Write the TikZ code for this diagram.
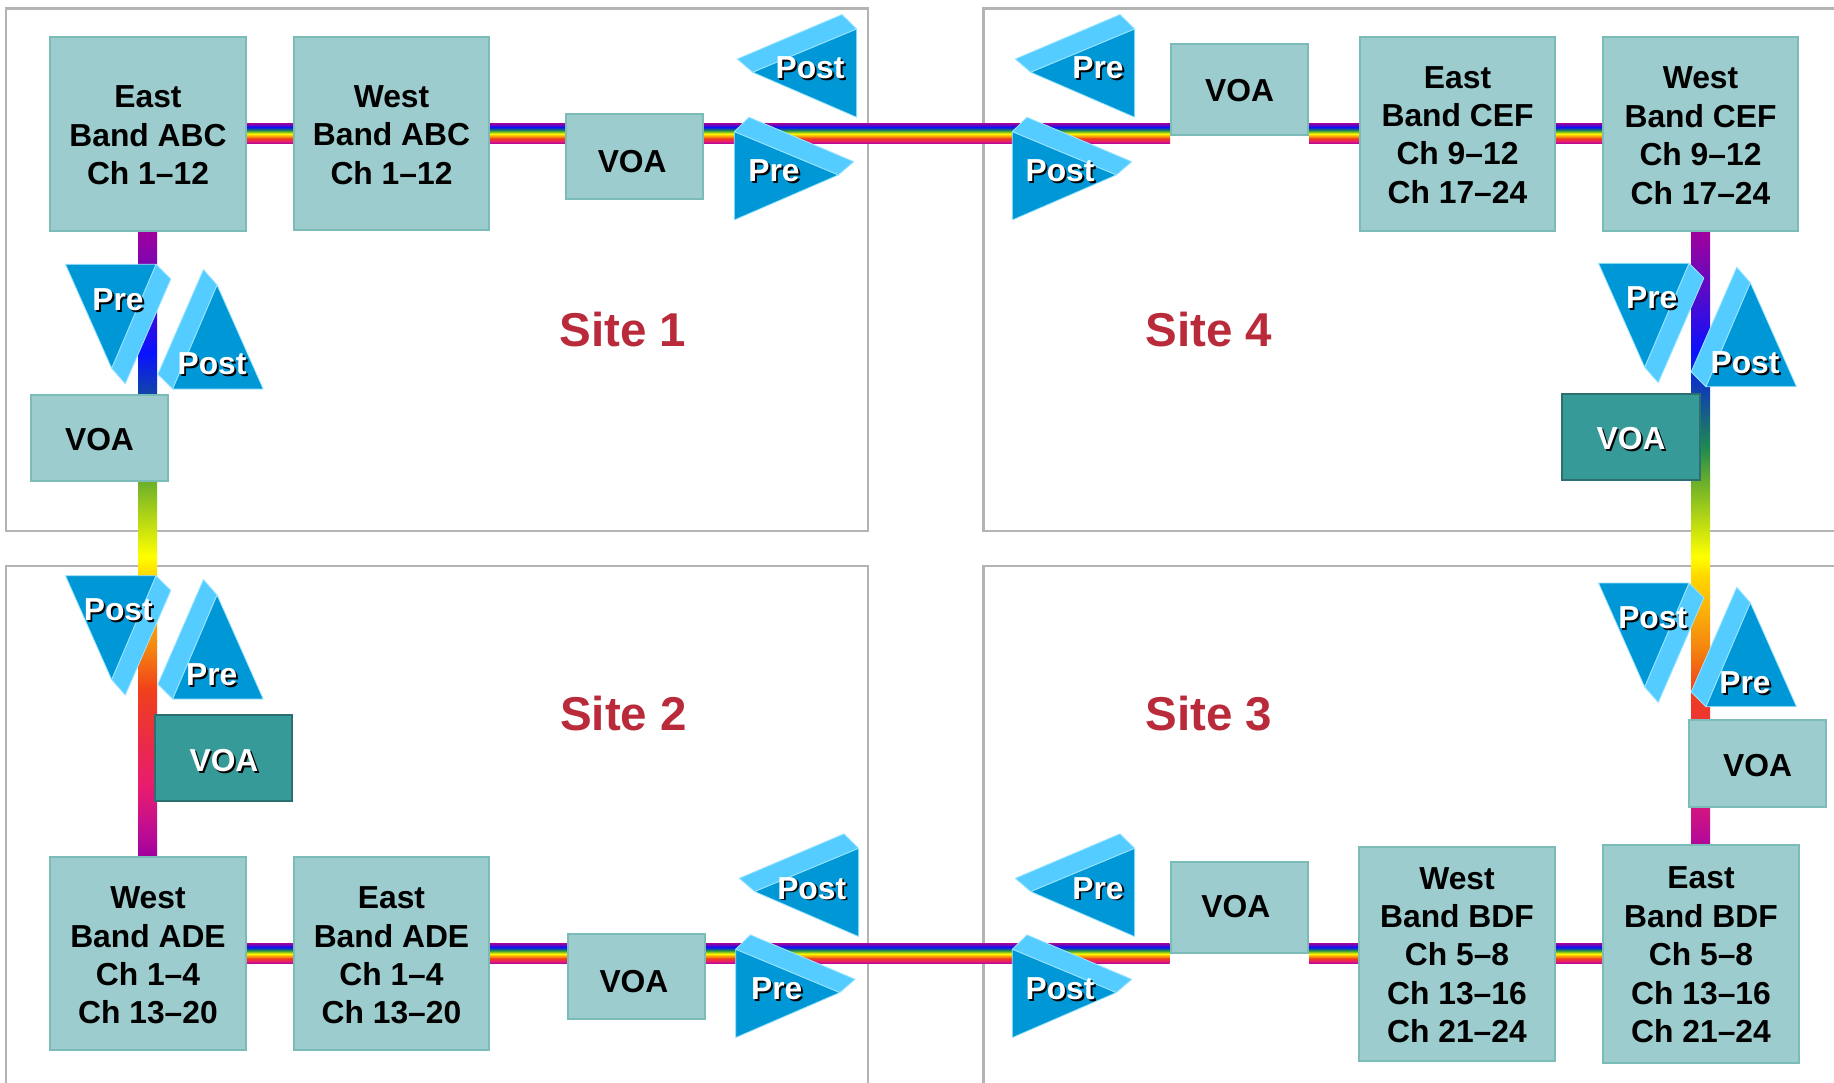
\documentclass[tikz,border=0pt]{standalone}
\usepackage{fontspec}
\setmainfont{Liberation Sans}
\usetikzlibrary{calc}
\pgfdeclarelayer{framelayer}
\pgfdeclarelayer{barlayer}
\pgfsetlayers{framelayer,barlayer,main}
\definecolor{framegray}{HTML}{B4B4B4}
\definecolor{boxfill}{HTML}{9CCCCD}
\definecolor{boxedge}{HTML}{7BBBB8}
\definecolor{darkfill}{HTML}{369A99}
\definecolor{darkedge}{HTML}{2B6F70}
\definecolor{ampmain}{HTML}{0097D6}
\definecolor{ampband}{HTML}{55CCFF}
\definecolor{ampedge}{HTML}{9FE6FF}
\definecolor{sitered}{HTML}{B92B3B}
\definecolor{ra}{HTML}{A0009E}
\definecolor{rb}{HTML}{7C06B0}
\definecolor{rc}{HTML}{0A12FF}
\definecolor{rd}{HTML}{1040B0}
\definecolor{re}{HTML}{1E8A50}
\definecolor{rf}{HTML}{6CAF2A}
\definecolor{rg}{HTML}{FFFF00}
\definecolor{rh}{HTML}{FFD800}
\definecolor{ri}{HTML}{F5860F}
\definecolor{rj}{HTML}{F0401A}
\definecolor{rk}{HTML}{E9284F}
\definecolor{rl}{HTML}{E81C70}
\definecolor{rm}{HTML}{B70A96}
\pgfdeclareverticalshading{rainbowbar}{100bp}{%
 color(0bp)=(ra); color(25bp)=(ra); color(26.5bp)=(rm); color(30.5bp)=(rl); color(33.5bp)=(rk);
 color(38.3bp)=(rj); color(41.75bp)=(ri); color(47.5bp)=(rh); color(49bp)=(rg);
 color(55bp)=(rf); color(57.75bp)=(re); color(62.35bp)=(rd); color(65.3bp)=(rc);
 color(72.5bp)=(rb); color(75bp)=(ra); color(100bp)=(ra)}
\tikzset{
  txt/.style={font=\fontsize{31.8}{38.4}\selectfont\bfseries, align=center, inner sep=0pt},
  lightbox/.style={draw=boxedge, fill=boxfill, line width=2pt, inner sep=0pt},
  darkbox/.style={draw=darkedge, fill=darkfill, line width=2pt, inner sep=0pt},
  blacktxt/.style={txt, text=black},
  shadowtxt/.style={txt, text=black},
  whitetxt/.style={txt, text=white},
  sitelabel/.style={font=\fontsize{47.5}{50}\selectfont\bfseries, text=sitered, inner sep=0pt},
  framebox/.style={draw=framegray, line width=2.2pt},
  rainbow/.style={shading=rainbowbar},
  ampR/.style={x={(1pt,0pt)}, y={(0pt,-1pt)}},
  ampL/.style={x={(-1pt,0pt)}, y={(0pt,-1pt)}},
  ampD/.style={x={(0pt,-1pt)}, y={(-1.025pt,0pt)}},
  ampU/.style={x={(0pt,1pt)}, y={(1.025pt,0pt)}},
  ampbandshape/.style={fill=ampband, draw=ampedge, line width=0.8pt, line join=round},
  ampmainshape/.style={fill=ampmain, draw=ampedge, line width=0.8pt, line join=round},
}
% name, x1,y1,x2,y2, dx,dy, text
\newcommand{\lbox}[8]{\node[lightbox, minimum width={(#4-#2-2)*1pt}, minimum height={(#5-#3-2)*1pt}] (#1) at ({(#2+#4)/2},{(#3+#5)/2}) {};
  \node[blacktxt] (#1t) at ([shift={(#6pt,-#7pt)}]#1.center) {#8};}
\newcommand{\dbox}[8]{\node[darkbox, minimum width={(#4-#2-2)*1pt}, minimum height={(#5-#3-2)*1pt}] (#1) at ({(#2+#4)/2},{(#3+#5)/2}) {};
  \node[shadowtxt] (#1s) at ([shift={(#6pt+1.9pt,-#7pt-1.9pt)}]#1.center) {#8};
  \node[whitetxt] (#1t) at ([shift={(#6pt,-#7pt)}]#1.center) {#8};}
% name, Ax, Ay, orientation, label, lx, ly
\newcommand{\amp}[7]{%
  \begin{scope}[shift={(#2,#3)}, #4]
    \path[ampbandshape] (0,0) -- (14.7,-14.5) -- (119.5,30) -- (104,43.3) -- cycle;
    \path[ampmainshape] (0,0) -- (104,43.3) -- (0,88.3) -- cycle;
  \end{scope}
  \node[shadowtxt] (#1s) at ({#6+1.9},{#7+1.9}) {#5};
  \node[whitetxt] (#1) at (#6,#7) {#5};}
\begin{document}
\begin{tikzpicture}[x=1pt,y=-1pt]
\useasboundingbox (0,0) rectangle (1834,1083);
\begin{pgfonlayer}{framelayer}
  \fill[white] (0,0) rectangle (1834,1083);
  \begin{scope}
    \clip (0,0) rectangle (1834,1083);
    \draw[framebox] (6,8.5) rectangle (868,531);
    \draw[framebox] (983.5,8.5) rectangle (1860,531);
    \draw[framebox] (6,566) rectangle (868,1110);
    \draw[framebox] (983.5,566) rectangle (1860,1110);
  \end{scope}
\end{pgfonlayer}

\coordinate (hAt) at (0,123.3); \coordinate (hAb) at (0,143.7);
\coordinate (hBt) at (0,943.3); \coordinate (hBb) at (0,963.7);
\coordinate (vLl) at (138,0);   \coordinate (vLr) at (157,0);
\coordinate (vRl) at (1691,0);  \coordinate (vRr) at (1710,0);

% Site 1
\lbox{eabc}{49}{36}{247}{232}{0}{1.6}{East\\Band ABC\\Ch 1–12}
\lbox{wabc}{293}{36}{490}{231}{0}{1.4}{West\\Band ABC\\Ch 1–12}
\lbox{voaA}{565}{113}{704}{200}{-2.3}{4.7}{VOA}
\lbox{voaB}{30}{394}{169}{482}{0}{1.5}{VOA}
% Site 4
\lbox{voaC}{1170}{43}{1309}{136}{0}{1.2}{VOA}
\lbox{ecef}{1359}{36}{1556}{232}{0}{1}{East\\Band CEF\\Ch 9–12\\Ch 17–24}
\lbox{wcef}{1602}{36}{1799}{232}{0}{1.8}{West\\Band CEF\\Ch 9–12\\Ch 17–24}
\dbox{voaD}{1561}{393}{1701}{481}{0}{1.8}{VOA}
% Site 2
\dbox{voaE}{154}{714}{293}{802}{0.5}{2.6}{VOA}
\lbox{wade}{49}{856}{247}{1051}{0}{2}{West\\Band ADE\\Ch 1–4\\Ch 13–20}
\lbox{eade}{293}{856}{490}{1051}{0}{2}{East\\Band ADE\\Ch 1–4\\Ch 13–20}
\lbox{voaF}{567}{933}{705.5}{1020}{-2.3}{4.7}{VOA}
% Site 3
\lbox{voaG}{1688}{719}{1827}{808}{0}{1.6}{VOA}
\lbox{voaH}{1169.5}{861}{1309}{954}{-3.4}{-1.2}{VOA}
\lbox{wbdf}{1358}{846}{1556}{1062}{0}{1.2}{West\\Band BDF\\Ch 5–8\\Ch 13–16\\Ch 21–24}
\lbox{ebdf}{1602}{843.5}{1800}{1064}{0}{1.2}{East\\Band BDF\\Ch 5–8\\Ch 13–16\\Ch 21–24}

\coordinate (rEnd) at ([yshift=-13pt]ebdf.north);

\begin{pgfonlayer}{barlayer}
  \path[rainbow] (eabc.east |- hAt) rectangle (wabc.west |- hAb);
  \path[rainbow] (wabc.east |- hAt) rectangle (voaA.west |- hAb);
  \path[rainbow] (voaA.east |- hAt) rectangle (voaC.west |- hAb);
  \path[rainbow] (voaC.east |- hAt) rectangle (ecef.west |- hAb);
  \path[rainbow] (ecef.east |- hAt) rectangle (wcef.west |- hAb);
  \path[rainbow] (wade.east |- hBt) rectangle (eade.west |- hBb);
  \path[rainbow] (eade.east |- hBt) rectangle (voaF.west |- hBb);
  \path[rainbow] (voaF.east |- hBt) rectangle (voaH.west |- hBb);
  \path[rainbow] (voaH.east |- hBt) rectangle (wbdf.west |- hBb);
  \path[rainbow] (wbdf.east |- hBt) rectangle (ebdf.west |- hBb);
  \path[rainbow] (vLl |- eabc.south) rectangle (vLr |- wade.north);
  \path[rainbow] (vRl |- wcef.south) rectangle (vRr |- rEnd);
\end{pgfonlayer}

\amp{ampA}{856.7}{29}{ampL}{Post}{810}{68}
\amp{ampB}{734.3}{131.7}{ampR}{Pre}{774}{171}
\amp{ampC}{1134.7}{29}{ampL}{Pre}{1098}{68}
\amp{ampD}{1012.3}{131.7}{ampR}{Post}{1060}{171}
\amp{ampE}{156}{264.3}{ampD}{Pre}{118}{300}
\amp{ampF}{172.7}{389}{ampU}{Post}{212}{364}
\amp{ampG}{156}{575.7}{ampD}{Post}{118.3}{610}
\amp{ampH}{172.7}{699}{ampU}{Pre}{211.7}{675}
\amp{ampI}{1689}{263.3}{ampD}{Pre}{1651.7}{298}
\amp{ampJ}{1706}{386.7}{ampU}{Post}{1745}{362.7}
\amp{ampK}{1689}{583}{ampD}{Post}{1652.7}{618}
\amp{ampM}{1706}{706.7}{ampU}{Pre}{1745}{683}
\amp{ampN}{858.7}{848.3}{ampL}{Post}{811.7}{888.3}
\amp{ampO}{735.7}{949.3}{ampR}{Pre}{776.7}{989}
\amp{ampP}{1134.7}{848.3}{ampL}{Pre}{1098}{888.3}
\amp{ampQ}{1012.3}{949.3}{ampR}{Post}{1060}{989}

\node[sitelabel] (siteA) at (623,330) {Site 1};
\node[sitelabel] (siteB) at (623.5,713.5) {Site 2};
\node[sitelabel] (siteC) at (1209,713.5) {Site 3};
\node[sitelabel] (siteD) at (1209,330) {Site 4};
\end{tikzpicture}
\end{document}
